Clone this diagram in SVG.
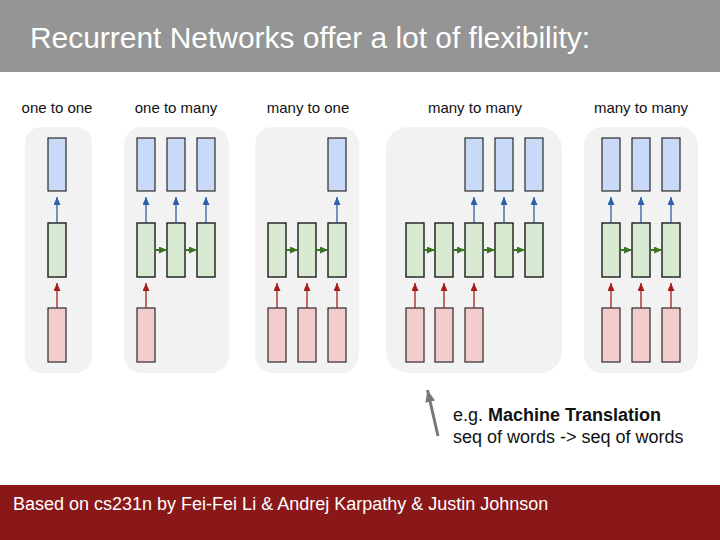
<svg xmlns="http://www.w3.org/2000/svg" width="720" height="540" viewBox="0 0 720 540">
<style>
text{font-family:"Liberation Sans",Arial,sans-serif}
.panel{fill:#f2f2f2}
.lbl{font-size:15px;fill:#111;text-anchor:middle}
.o{fill:#c9daf8;stroke:#2a2a2a;stroke-width:1.2}
.h{fill:#d9ead3;stroke:#1a1a1a;stroke-width:1.4}
.i{fill:#f4cccc;stroke:#2a2a2a;stroke-width:1.2}
.ba{stroke:#2f5fa8;stroke-width:1.3;fill:none;marker-end:url(#mb)}
.ra{stroke:#a61c1c;stroke-width:1.3;fill:none;marker-end:url(#mr)}
.ga{stroke:#3a7420;stroke-width:2;fill:none;marker-end:url(#mg)}
</style>
<defs>
<marker id="mb" markerUnits="userSpaceOnUse" markerWidth="8" markerHeight="8" refX="8" refY="3.5" orient="auto"><path d="M0,0L8,3.5L0,7z" fill="#2f5fa8"/></marker>
<marker id="mr" markerUnits="userSpaceOnUse" markerWidth="8" markerHeight="8" refX="8" refY="3.5" orient="auto"><path d="M0,0L8,3.5L0,7z" fill="#a61c1c"/></marker>
<marker id="mg" markerUnits="userSpaceOnUse" markerWidth="8" markerHeight="8" refX="8" refY="3.5" orient="auto"><path d="M0,0L8,3.5L0,7z" fill="#3a7420"/></marker>
<marker id="mk" markerUnits="userSpaceOnUse" markerWidth="14" markerHeight="12" refX="12" refY="5" orient="auto"><path d="M0,0L12,5L0,10z" fill="#777"/></marker>
</defs>
<rect x="0" y="0" width="720" height="72" fill="#959595"/>
<text x="30" y="48" font-size="29" fill="#fff" textLength="560" lengthAdjust="spacingAndGlyphs">Recurrent Networks offer a lot of flexibility:</text>

<g id="panels">
<rect class="panel" x="25" y="127" width="67" height="246" rx="16"/>
<rect class="panel" x="124" y="127" width="105" height="246" rx="18"/>
<rect class="panel" x="255" y="127" width="104" height="246" rx="18"/>
<rect class="panel" x="386" y="127" width="176" height="246" rx="22"/>
<rect class="panel" x="584" y="127" width="114" height="246" rx="18"/>
</g>
<g id="labels">
<text class="lbl" x="57" y="113">one to one</text>
<text class="lbl" x="176" y="113">one to many</text>
<text class="lbl" x="308" y="113">many to one</text>
<text class="lbl" x="475" y="113">many to many</text>
<text class="lbl" x="641" y="113">many to many</text>
</g>

<g id="one-to-one">
<rect class="o" x="48" y="138" width="18" height="53"/>
<rect class="h" x="48" y="223" width="18" height="54"/>
<rect class="i" x="48" y="308" width="18" height="54"/>
</g>
<g id="one-to-many">
<rect class="o" x="137" y="138" width="18" height="53"/>
<rect class="o" x="167" y="138" width="18" height="53"/>
<rect class="o" x="197" y="138" width="18" height="53"/>
<rect class="h" x="137" y="223" width="18" height="54"/>
<rect class="h" x="167" y="223" width="18" height="54"/>
<rect class="h" x="197" y="223" width="18" height="54"/>
<rect class="i" x="137" y="308" width="18" height="54"/>
</g>
<g id="many-to-one">
<rect class="o" x="328" y="138" width="18" height="53"/>
<rect class="h" x="268" y="223" width="18" height="54"/>
<rect class="h" x="298" y="223" width="18" height="54"/>
<rect class="h" x="328" y="223" width="18" height="54"/>
<rect class="i" x="268" y="308" width="18" height="54"/>
<rect class="i" x="298" y="308" width="18" height="54"/>
<rect class="i" x="328" y="308" width="18" height="54"/>
</g>
<g id="many-to-many-1">
<rect class="o" x="465" y="138" width="18" height="53"/>
<rect class="o" x="495" y="138" width="18" height="53"/>
<rect class="o" x="525" y="138" width="18" height="53"/>
<rect class="h" x="406" y="223" width="18" height="54"/>
<rect class="h" x="435" y="223" width="18" height="54"/>
<rect class="h" x="465" y="223" width="18" height="54"/>
<rect class="h" x="495" y="223" width="18" height="54"/>
<rect class="h" x="525" y="223" width="18" height="54"/>
<rect class="i" x="406" y="308" width="18" height="54"/>
<rect class="i" x="435" y="308" width="18" height="54"/>
<rect class="i" x="465" y="308" width="18" height="54"/>
</g>
<g id="many-to-many-2">
<rect class="o" x="602" y="138" width="18" height="53"/>
<rect class="o" x="632" y="138" width="18" height="53"/>
<rect class="o" x="662" y="138" width="18" height="53"/>
<rect class="h" x="602" y="223" width="18" height="54"/>
<rect class="h" x="632" y="223" width="18" height="54"/>
<rect class="h" x="662" y="223" width="18" height="54"/>
<rect class="i" x="602" y="308" width="18" height="54"/>
<rect class="i" x="632" y="308" width="18" height="54"/>
<rect class="i" x="662" y="308" width="18" height="54"/>
</g>

<g id="connectors">
<path class="ba" d="M57,223V197"/>
<path class="ba" d="M146,223V197"/>
<path class="ba" d="M176,223V197"/>
<path class="ba" d="M206,223V197"/>
<path class="ba" d="M337,223V197"/>
<path class="ba" d="M474,223V197"/>
<path class="ba" d="M504,223V197"/>
<path class="ba" d="M534,223V197"/>
<path class="ba" d="M611,223V197"/>
<path class="ba" d="M641,223V197"/>
<path class="ba" d="M671,223V197"/>
<path class="ra" d="M57,308V283"/>
<path class="ra" d="M146,308V283"/>
<path class="ra" d="M277,308V283"/>
<path class="ra" d="M307,308V283"/>
<path class="ra" d="M337,308V283"/>
<path class="ra" d="M415,308V283"/>
<path class="ra" d="M444,308V283"/>
<path class="ra" d="M474,308V283"/>
<path class="ra" d="M611,308V283"/>
<path class="ra" d="M641,308V283"/>
<path class="ra" d="M671,308V283"/>
<path class="ga" d="M155,250H167"/>
<path class="ga" d="M185,250H197"/>
<path class="ga" d="M286,250H298"/>
<path class="ga" d="M316,250H328"/>
<path class="ga" d="M424,250H435"/>
<path class="ga" d="M453,250H465"/>
<path class="ga" d="M483,250H495"/>
<path class="ga" d="M513,250H525"/>
<path class="ga" d="M620,250H632"/>
<path class="ga" d="M650,250H662"/>
<path d="M438,436L427.5,390" stroke="#777" stroke-width="3" fill="none" marker-end="url(#mk)"/>
</g>

<g id="annotation">
<text x="453" y="421" font-size="18" fill="#111">e.g. <tspan font-weight="bold">Machine Translation</tspan></text>
<text x="453" y="443" font-size="18" fill="#111">seq of words -&gt; seq of words</text>
</g>

<rect x="0" y="485" width="720" height="55" fill="#8b1818"/>
<text x="13" y="510" font-size="18" fill="#fff">Based on cs231n by Fei-Fei Li &amp; Andrej Karpathy &amp; Justin Johnson</text>
</svg>
